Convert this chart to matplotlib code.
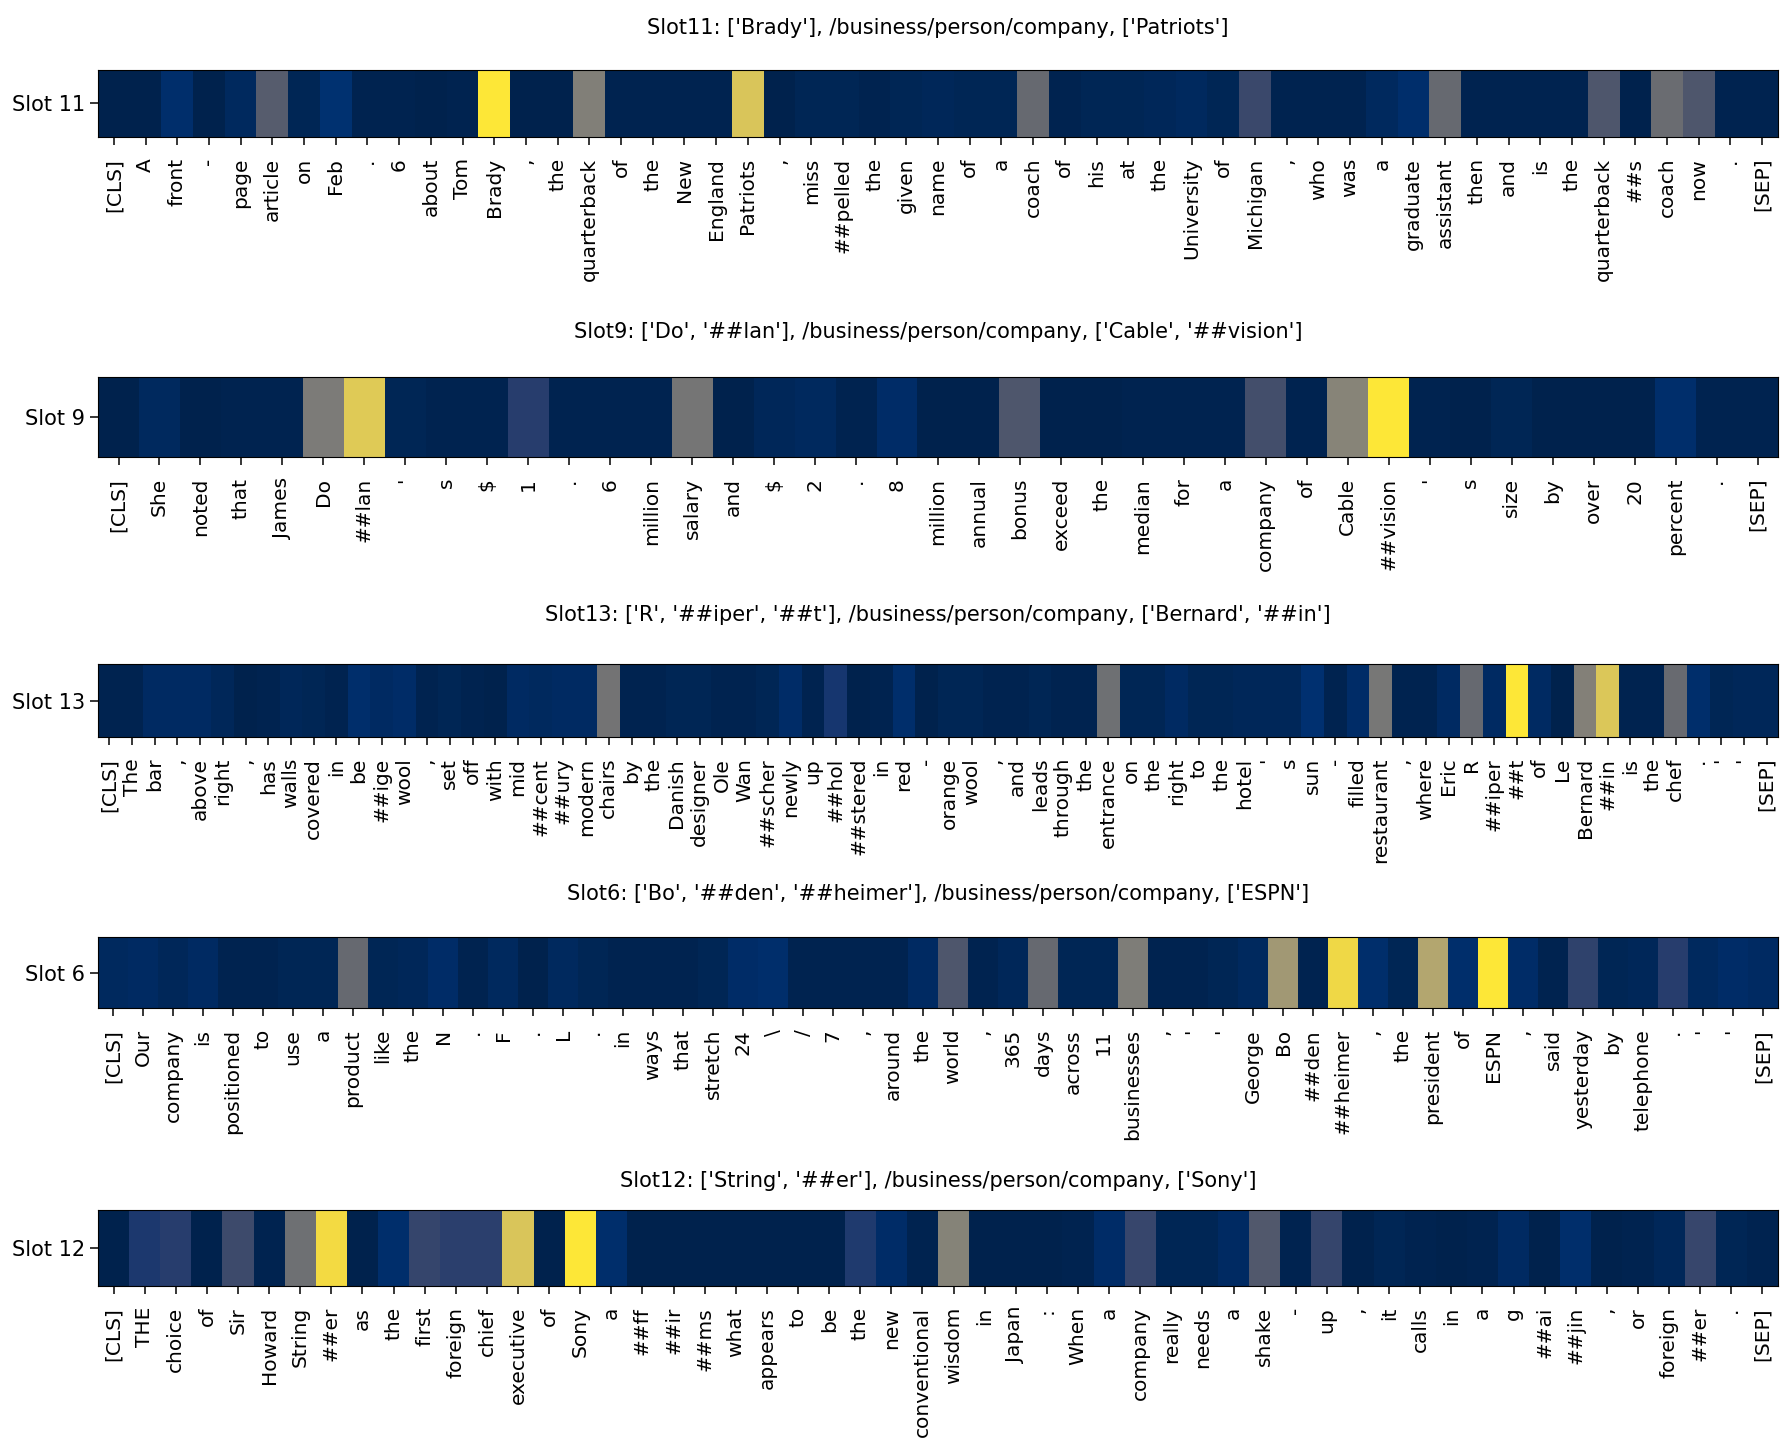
import numpy as np
import matplotlib
matplotlib.use('Agg')
import matplotlib.pyplot as plt

# tokens and attention weights per slot
tokens11 = ['[CLS]', 'A', 'front', '-', 'page', 'article', 'on', 'Feb', '.', '6', 'about', 'Tom',
            'Brady', ',', 'the', 'quarterback', 'of', 'the', 'New', 'England', 'Patriots', ',',
            'miss', '##pelled', 'the', 'given', 'name', 'of', 'a', 'coach', 'of', 'his', 'at', 'the',
            'University', 'of', 'Michigan', ',', 'who', 'was', 'a', 'graduate', 'assistant', 'then',
            'and', 'is', 'the', 'quarterback', '##s', 'coach', 'now', '.', '[SEP]']
weights11 = [0.0, 0.0, 0.07, 0.0, 0.04, 0.33, 0.02, 0.09, 0.01, 0.01, 0.0, 0.01,
             1.0, 0.0, 0.0, 0.52, 0.01, 0.01, 0.01, 0.01, 0.86, 0.0,
             0.02, 0.02, 0.01, 0.02, 0.03, 0.02, 0.02, 0.40, 0.01, 0.02, 0.02, 0.03,
             0.04, 0.02, 0.22, 0.01, 0.01, 0.01, 0.04, 0.07, 0.40, 0.01,
             0.01, 0.01, 0.01, 0.30, 0.0, 0.42, 0.30, 0.01, 0.01]

tokens9 = ['[CLS]', 'She', 'noted', 'that', 'James', 'Do', '##lan', "'", 's', '$', '1', '.', '6',
           'million', 'salary', 'and', '$', '2', '.', '8', 'million', 'annual', 'bonus', 'exceed',
           'the', 'median', 'for', 'a', 'company', 'of', 'Cable', '##vision', "'", 's', 'size', 'by',
           'over', '20', 'percent', '.', '[SEP]']
weights9 = [0.0, 0.04, 0.0, 0.01, 0.01, 0.50, 0.88, 0.02, 0.01, 0.01, 0.16, 0.01, 0.01,
            0.01, 0.47, 0.0, 0.03, 0.04, 0.01, 0.06, 0.0, 0.0, 0.30, 0.0,
            0.0, 0.01, 0.01, 0.01, 0.25, 0.01, 0.55, 1.0, 0.01, 0.0, 0.02, 0.0,
            0.0, 0.0, 0.07, 0.01, 0.01]

tokens13 = ['[CLS]', 'The', 'bar', ',', 'above', 'right', ',', 'has', 'walls', 'covered', 'in', 'be',
            '##ige', 'wool', ',', 'set', 'off', 'with', 'mid', '##cent', '##ury', 'modern', 'chairs',
            'by', 'the', 'Danish', 'designer', 'Ole', 'Wan', '##scher', 'newly', 'up', '##hol',
            '##stered', 'in', 'red', '-', 'orange', 'wool', ',', 'and', 'leads', 'through', 'the',
            'entrance', 'on', 'the', 'right', 'to', 'the', 'hotel', "'", 's', 'sun', '-', 'filled',
            'restaurant', ',', 'where', 'Eric', 'R', '##iper', '##t', 'of', 'Le', 'Bernard', '##in',
            'is', 'the', 'chef', '.', "'", "'", '[SEP]']
weights13 = [0.01, 0.01, 0.05, 0.05, 0.05, 0.03, 0.0, 0.01, 0.03, 0.02, 0.01, 0.07,
             0.05, 0.06, 0.01, 0.02, 0.01, 0.0, 0.05, 0.04, 0.05, 0.05, 0.46,
             0.01, 0.01, 0.02, 0.02, 0.01, 0.01, 0.02, 0.06, 0.01, 0.12,
             0.0, 0.01, 0.07, 0.0, 0.02, 0.02, 0.01, 0.01, 0.02, 0.01, 0.01,
             0.44, 0.02, 0.02, 0.05, 0.02, 0.02, 0.03, 0.03, 0.03, 0.08, 0.01, 0.06,
             0.48, 0.01, 0.01, 0.05, 0.40, 0.05, 1.0, 0.05, 0.0, 0.53, 0.87,
             0.01, 0.01, 0.41, 0.07, 0.02, 0.03, 0.03]

tokens6 = ['[CLS]', 'Our', 'company', 'is', 'positioned', 'to', 'use', 'a', 'product', 'like', 'the',
           'N', '.', 'F', '.', 'L', '.', 'in', 'ways', 'that', 'stretch', '24', '\\', '/', '7', ',',
           'around', 'the', 'world', ',', '365', 'days', 'across', '11', 'businesses', ',', "'", "'",
           'George', 'Bo', '##den', '##heimer', ',', 'the', 'president', 'of', 'ESPN', ',', 'said',
           'yesterday', 'by', 'telephone', '.', "'", "'", '[SEP]']
weights6 = [0.04, 0.05, 0.03, 0.05, 0.01, 0.01, 0.02, 0.02, 0.40, 0.02, 0.03,
            0.06, 0.01, 0.04, 0.0, 0.04, 0.02, 0.01, 0.01, 0.01, 0.02, 0.06, 0.07, 0.01, 0.01, 0.01,
            0.01, 0.05, 0.30, 0.01, 0.03, 0.40, 0.02, 0.02, 0.51, 0.01, 0.01, 0.02,
            0.04, 0.65, 0.01, 0.94, 0.07, 0.02, 0.72, 0.07, 1.0, 0.06, 0.01,
            0.18, 0.02, 0.03, 0.16, 0.04, 0.06, 0.05]

tokens12 = ['[CLS]', 'THE', 'choice', 'of', 'Sir', 'Howard', 'String', '##er', 'as', 'the', 'first',
            'foreign', 'chief', 'executive', 'of', 'Sony', 'a', '##ff', '##ir', '##ms', 'what',
            'appears', 'to', 'be', 'the', 'new', 'conventional', 'wisdom', 'in', 'Japan', ':', 'When',
            'a', 'company', 'really', 'needs', 'a', 'shake', '-', 'up', ',', 'it', 'calls', 'in', 'a',
            'g', '##ai', '##jin', ',', 'or', 'foreign', '##er', '.', '[SEP]']
weights12 = [0.0, 0.13, 0.16, 0.0, 0.23, 0.01, 0.44, 0.95, 0.0, 0.07, 0.20,
             0.17, 0.17, 0.86, 0.0, 1.0, 0.07, 0.0, 0.0, 0.0, 0.0,
             0.0, 0.0, 0.0, 0.14, 0.06, 0.01, 0.54, 0.0, 0.0, 0.0, 0.01,
             0.06, 0.21, 0.02, 0.02, 0.05, 0.31, 0.01, 0.20, 0.0, 0.02, 0.01, 0.0, 0.01,
             0.05, 0.0, 0.07, 0.0, 0.01, 0.03, 0.21, 0.02, 0.01]

titles = ["Slot11: ['Brady'], /business/person/company, ['Patriots']",
          "Slot9: ['Do', '##lan'], /business/person/company, ['Cable', '##vision']",
          "Slot13: ['R', '##iper', '##t'], /business/person/company, ['Bernard', '##in']",
          "Slot6: ['Bo', '##den', '##heimer'], /business/person/company, ['ESPN']",
          "Slot12: ['String', '##er'], /business/person/company, ['Sony']"]
slot_names = ['Slot 11', 'Slot 9', 'Slot 13', 'Slot 6', 'Slot 12']
all_tokens = [tokens11, tokens9, tokens13, tokens6, tokens12]
all_weights = [weights11, weights9, weights13, weights6, weights12]

# axes boxes (bottom, height) and title heights, in figure fractions
boxes = [(0.9058, 0.0461), (0.6857, 0.0550), (0.4931, 0.0502), (0.3067, 0.0488), (0.1155, 0.0523)]
title_y = [0.981, 0.772, 0.577, 0.385, 0.188]

fig = plt.figure(figsize=(17.92, 14.54), dpi=100)
left, width = 0.0547, 0.9375

for i in range(5):
    b, h = boxes[i]
    ax = fig.add_axes([left, b, width, h])
    w = np.array(all_weights[i])[None, :]
    ax.imshow(w, cmap='cividis', vmin=0, vmax=1, aspect='auto', interpolation='nearest')
    ax.set_xticks(range(len(all_tokens[i])))
    ax.set_xticklabels(all_tokens[i], rotation=90, fontsize=14.5)
    ax.tick_params(axis='both', length=6, width=1.1)
    ax.tick_params(axis='x', pad=9)
    ax.set_yticks([0])
    ax.set_yticklabels([slot_names[i]], fontsize=15)
    fig.text(left + width / 2, title_y[i], titles[i], ha='center', va='center', fontsize=15)

fig.savefig('out.png', dpi=100)
